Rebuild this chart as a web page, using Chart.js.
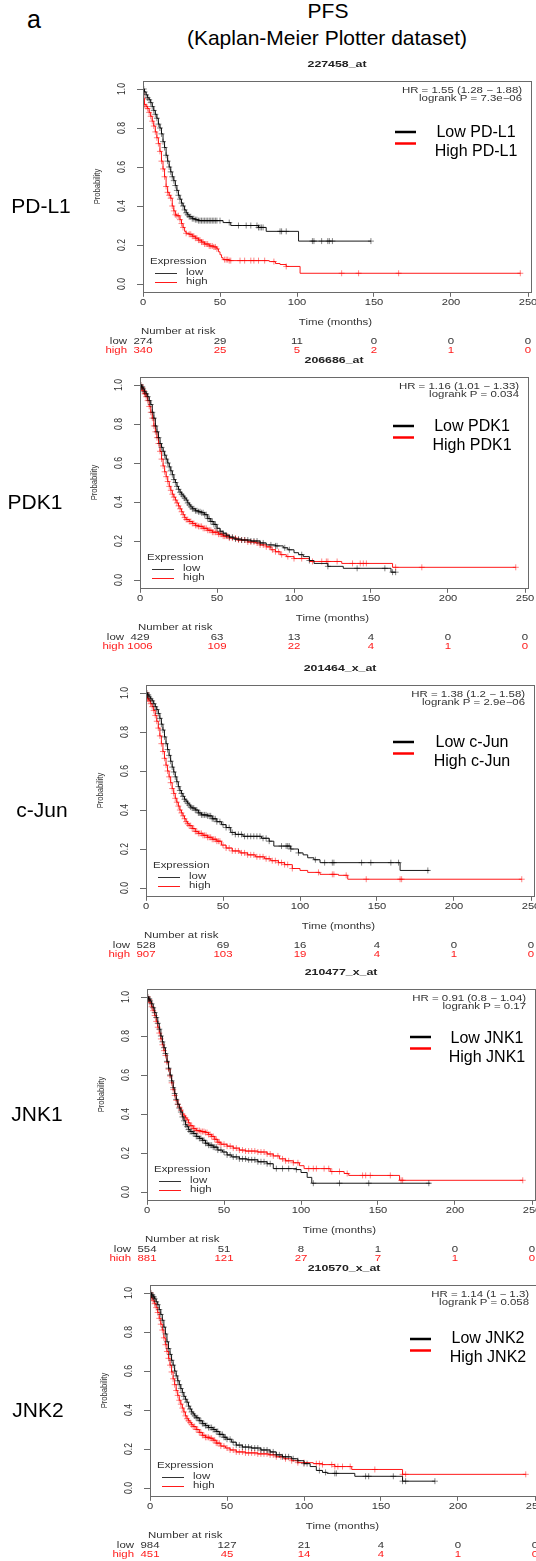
<!DOCTYPE html>
<html>
<head>
<meta charset="utf-8">
<script src="https://cdn.jsdelivr.net/npm/chart.js@4.4.1/dist/chart.umd.min.js"></script>
<style>
html, body { margin: 0; padding: 0; background: #fff; overflow: hidden; }
body { width: 536px; height: 1561px; position: relative; font-family: "Liberation Sans", Arial, sans-serif; }
.lbl { position: absolute; white-space: nowrap; color: #000; line-height: 1; transform: translate(-50%, -50%); }
canvas { position: absolute; left: 0; background: #fff; }
</style>
</head>
<body>
<div class="lbl" style="left:34px;top:19px;font-size:25px">a</div>
<div class="lbl" style="left:328px;top:10px;font-size:21px">PFS</div>
<div class="lbl" style="left:327px;top:37px;font-size:21px">(Kaplan-Meier Plotter dataset)</div>
<script>
// axes
const timeTicks = [0, 50, 100, 150, 200, 250];
const probTicks = [0, 0.2, 0.4, 0.6, 0.8, 1.0];

// panel texts
const genes = ['PD-L1', 'PDK1', 'c-Jun', 'JNK1', 'JNK2'];
const probes = ['227458_at', '206686_at', '201464_x_at', '210477_x_at', '210570_x_at'];
const hrLines = ['HR = 1.55 (1.28 \u2212 1.88)', 'HR = 1.16 (1.01 \u2212 1.33)', 'HR = 1.38 (1.2 \u2212 1.58)',
                 'HR = 0.91 (0.8 \u2212 1.04)', 'HR = 1.14 (1 \u2212 1.3)'];
const pLines = ['logrank P = 7.3e\u221206', 'logrank P = 0.034', 'logrank P = 2.9e\u221206',
                'logrank P = 0.17', 'logrank P = 0.058'];

// number at risk (at timeTicks)
const riskLow = [[274, 29, 11, 0, 0, 0], [429, 63, 13, 4, 0, 0], [528, 69, 16, 4, 0, 0],
                 [554, 51, 8, 1, 0, 0], [984, 127, 21, 4, 0, 0]];
const riskHigh = [[340, 25, 5, 2, 1, 0], [1006, 109, 22, 4, 1, 0], [907, 103, 19, 4, 1, 0],
                  [881, 121, 27, 7, 1, 0], [451, 45, 14, 4, 1, 0]];

// PD-L1 (227458_at)
const pdl1LowT = [0,1,2,3,4,5,6,7,8,9,10,11,12,13,14,15,16,17,18,19,20,21,22,23,24,25,26,27,28,29,30,32,34,36,52,57,75,80,101];
const pdl1LowS = [1,0.985,0.97,0.955,0.945,0.93,0.91,0.89,0.87,0.85,0.82,0.8,0.77,0.73,0.7,0.66,0.63,0.6,0.575,0.55,0.53,0.505,0.48,0.455,0.435,0.415,0.4,0.38,0.365,0.355,0.345,0.335,0.33,0.325,0.315,0.3,0.29,0.27,0.22];
const pdl1LowEnd = 148;
const pdl1LowC = [0.5,1,2,3,4,5,6,7,8,9,10,11,12,13,14,15,16,17,18,19,20,21,22,23,24,25,26,27,28,29,30,31,32,33,34,35,36,37,38,39,40,41,42,43,44,45,46,47,48,50,56,62,67,70,74,75,76,77,78,89,90,93,110,111,116,120,121,123,148];
const pdl1HighT = [0,0.5,1,2,3,4,5,6,7,8,9,10,11,12,13,14,15,16,17,18,19,20,21,22,24,25,26,27,28,30,32,34,36,38,40,43,46,48,49,50,51,52,56,82,86,89,93,102];
const pdl1HighS = [1,0.95,0.92,0.91,0.9,0.88,0.86,0.835,0.81,0.78,0.75,0.72,0.68,0.63,0.59,0.55,0.5,0.47,0.455,0.44,0.4,0.375,0.355,0.35,0.33,0.31,0.29,0.27,0.26,0.255,0.245,0.235,0.225,0.215,0.205,0.195,0.19,0.18,0.165,0.15,0.135,0.125,0.12,0.115,0.105,0.1,0.09,0.055];
const pdl1HighEnd = 245;
const pdl1HighC = [0.5,1,2,3,4,5,6,7,8,9,10,11,12,13,14,15,16,17,18,19,20,21,22,23,24,25,26,28,30,31,32,33,34,35,36,37,38,39,40,41,42,43,44,45,46,47,48,53,54,55,56,57,63,66,70,72,75,79,85,93,129,140,166,245];

// PDK1 (206686_at)
const pdk1LowT = [0,1,2,3,4,5,6,7,8,9,10,11,12,13,14,15,16,17,18,19,20,21,22,23,24,25,26,27,28,29,30,31,32,33,34,36,38,40,42,44,46,48,50,52,54,56,58,61,66,72,78,82,88,93,96,100,103,106,110,113,122,132,163];
const pdk1LowS = [1,0.99,0.98,0.965,0.955,0.94,0.92,0.9,0.86,0.83,0.79,0.76,0.73,0.7,0.68,0.66,0.64,0.62,0.6,0.58,0.56,0.54,0.515,0.5,0.48,0.465,0.45,0.44,0.43,0.42,0.41,0.395,0.385,0.375,0.365,0.355,0.35,0.345,0.335,0.315,0.3,0.285,0.265,0.25,0.24,0.23,0.22,0.21,0.205,0.2,0.19,0.18,0.175,0.165,0.155,0.14,0.13,0.12,0.1,0.085,0.07,0.06,0.04];
const pdk1LowEnd = 166;
const pdk1LowC = [0.5,1,1.5,2,3,4,5,6,7,8,9,10,11,12,13,14,15,16,17,18,19,20,21,22,23,24,25,26,27,28,29,30,31,32,33,34,35,36,37,38,39,40,41,42,43,44,45,46,47,48,49,50,52,54,56,58,60,62,64,66,68,70,72,74,76,78,80,85,88,89,94,97,105,110,122,141,159,164,166];
const pdk1HighT = [0,1,2,3,4,5,6,7,8,9,10,11,12,13,14,15,16,17,18,19,20,21,22,23,24,25,26,27,28,29,30,32,34,36,38,41,44,47,51,54,58,63,70,75,78,82,85,88,91,95,100,110,131,164];
const pdk1HighS = [1,0.985,0.97,0.955,0.94,0.92,0.89,0.86,0.83,0.79,0.76,0.73,0.7,0.66,0.62,0.585,0.555,0.53,0.505,0.48,0.46,0.44,0.425,0.41,0.395,0.38,0.365,0.35,0.335,0.32,0.31,0.3,0.29,0.28,0.275,0.265,0.255,0.245,0.235,0.225,0.215,0.205,0.195,0.19,0.18,0.17,0.155,0.145,0.13,0.12,0.11,0.095,0.085,0.065];
const pdk1HighEnd = 244;
const pdk1HighC = [0.5,1,1.5,2,2.5,3,3.5,4,5,6,7,8,9,10,11,12,13,14,15,16,17,18,19,20,21,22,23,24,25,26,27,28,29,30,31,32,33,34,35,36,37,38,39,40,41,42,43,44,45,46,47,48,49,50,51,52,53,54,55,56,57,58,60,62,64,66,68,70,72,74,76,78,80,82,84,86,88,90,92,96,100,105,112,118,121,122,128,138,143,145,147,166,183,244];

// c-Jun (201464_x_at)
const cjunLowT = [0,1,2,3,4,5,6,7,8,9,10,11,12,13,14,15,16,17,18,19,20,21,22,23,24,25,26,27,28,29,30,32,34,36,40,43,46,49,52,55,58,63,75,80,83,94,99,102,105,109,113,165];
const cjunLowS = [1,0.99,0.98,0.97,0.96,0.945,0.93,0.915,0.895,0.87,0.84,0.81,0.775,0.74,0.71,0.68,0.65,0.62,0.595,0.57,0.545,0.52,0.5,0.485,0.47,0.455,0.445,0.435,0.425,0.415,0.41,0.4,0.385,0.375,0.37,0.355,0.34,0.325,0.31,0.285,0.275,0.265,0.255,0.24,0.215,0.2,0.18,0.17,0.155,0.145,0.13,0.09];
const cjunLowEnd = 184;
const cjunLowC = [0.5,1,1.5,2,3,4,5,6,7,8,9,10,11,12,13,14,15,16,17,18,19,20,21,22,23,24,25,26,27,28,29,30,31,32,33,34,35,36,37,38,39,40,41,42,43,44,45,46,48,50,52,54,56,58,60,62,64,66,68,70,72,74,76,78,80,88,91,92,93,94,99,110,116,121,122,140,146,159,164,183];
const cjunHighT = [0,1,2,3,4,5,6,7,8,9,10,11,12,13,14,15,16,17,18,19,20,21,22,23,24,25,26,27,28,30,32,34,37,40,43,46,49,52,56,61,66,71,77,81,86,90,95,100,105,113,125,131];
const cjunHighS = [1,0.97,0.96,0.945,0.93,0.91,0.885,0.855,0.82,0.78,0.74,0.7,0.665,0.63,0.6,0.57,0.54,0.51,0.485,0.46,0.44,0.42,0.4,0.385,0.37,0.355,0.34,0.33,0.32,0.305,0.29,0.28,0.27,0.26,0.25,0.24,0.22,0.205,0.19,0.18,0.17,0.16,0.15,0.14,0.13,0.12,0.1,0.09,0.08,0.07,0.065,0.045];
const cjunHighEnd = 244;
const cjunHighC = [0.5,1,1.5,2,3,4,5,6,7,8,9,10,11,12,13,14,15,16,17,18,19,20,21,22,23,24,25,26,27,28,29,30,31,32,33,34,35,36,37,38,39,40,41,42,43,44,45,46,47,48,50,52,54,56,58,60,62,64,66,68,70,72,74,76,78,80,82,84,86,88,90,92,95,112,121,122,130,143,165,166,244];

// JNK1 (210477_x_at)
const jnk1LowT = [0,1,2,3,4,5,6,7,8,9,10,11,12,13,14,15,16,17,18,19,20,21,22,23,24,25,26,27,28,30,32,34,36,38,40,43,46,49,52,55,60,65,72,78,82,97,100,104,107];
const jnk1LowS = [1,0.99,0.98,0.965,0.945,0.92,0.895,0.865,0.835,0.8,0.77,0.74,0.71,0.67,0.635,0.6,0.57,0.535,0.505,0.475,0.45,0.43,0.41,0.385,0.365,0.345,0.335,0.32,0.31,0.3,0.285,0.275,0.265,0.25,0.24,0.23,0.215,0.205,0.19,0.18,0.17,0.165,0.155,0.145,0.12,0.115,0.1,0.075,0.045];
const jnk1LowEnd = 184;
const jnk1LowC = [0.5,1,1.5,2,3,4,5,6,7,8,9,10,11,12,13,14,15,16,17,18,19,20,21,22,23,24,25,26,27,28,29,30,31,32,33,34,35,36,37,38,39,40,41,42,43,44,45,46,48,50,52,54,56,58,60,62,64,66,68,70,72,74,76,78,80,84,88,92,97,108,125,144,183];
const jnk1HighT = [0,1,2,3,4,5,6,7,8,9,10,11,12,13,14,15,16,17,18,19,20,21,22,23,24,25,26,27,28,30,32,35,38,40,42,44,46,48,52,56,60,64,72,78,82,86,90,95,99,102,119,128,131,164];
const jnk1HighS = [1,0.985,0.97,0.95,0.93,0.905,0.875,0.845,0.815,0.785,0.755,0.725,0.7,0.665,0.63,0.595,0.56,0.525,0.495,0.47,0.45,0.435,0.42,0.4,0.39,0.38,0.37,0.355,0.34,0.325,0.315,0.31,0.305,0.295,0.285,0.27,0.255,0.245,0.235,0.225,0.215,0.21,0.205,0.195,0.185,0.17,0.16,0.15,0.135,0.12,0.105,0.095,0.085,0.06];
const jnk1HighEnd = 244;
const jnk1HighC = [0.5,1,1.5,2,3,4,5,6,7,8,9,10,11,12,13,14,15,16,17,18,19,20,21,22,23,24,25,26,27,28,29,30,31,32,33,34,35,36,37,38,39,40,41,42,43,44,45,46,47,48,50,52,54,56,58,60,62,64,66,68,70,72,74,76,78,80,82,85,88,90,92,95,98,105,108,110,115,118,120,125,130,140,142,145,158,165,166,244];

// JNK2 (210570_x_at)
const jnk2LowT = [0,1,2,3,4,5,6,7,8,9,10,11,12,13,14,15,16,17,18,19,20,21,22,23,24,25,26,27,28,29,30,32,34,36,38,41,43,45,48,50,53,56,60,66,72,78,82,86,92,96,100,104,108,112,115,133,164];
const jnk2LowS = [1,0.99,0.98,0.97,0.955,0.94,0.915,0.89,0.86,0.825,0.79,0.75,0.715,0.685,0.655,0.63,0.6,0.575,0.55,0.53,0.51,0.49,0.47,0.455,0.44,0.42,0.405,0.39,0.38,0.37,0.36,0.345,0.33,0.32,0.31,0.3,0.29,0.275,0.26,0.25,0.235,0.22,0.21,0.205,0.195,0.185,0.17,0.16,0.15,0.14,0.125,0.11,0.09,0.08,0.075,0.06,0.035];
const jnk2LowEnd = 185;
const jnk2LowC = [0.5,1,1.5,2,2.5,3,4,5,6,7,8,9,10,11,12,13,14,15,16,17,18,19,20,21,22,23,24,25,26,27,28,29,30,31,32,33,34,35,36,37,38,39,40,41,42,43,44,45,46,47,48,49,50,52,54,56,58,60,62,64,66,68,70,72,74,76,78,80,82,84,86,88,90,93,96,100,102,110,114,120,121,140,142,158,164,166,185];
const jnk2HighT = [0,1,2,3,4,5,6,7,8,9,10,11,12,13,14,15,16,17,18,19,20,21,22,23,24,25,26,27,28,30,32,34,36,39,41,43,46,49,52,56,62,70,77,82,87,92,96,106,112,120,131,164];
const jnk2HighS = [1,0.975,0.96,0.945,0.925,0.9,0.87,0.84,0.81,0.77,0.735,0.7,0.665,0.63,0.595,0.56,0.53,0.5,0.475,0.45,0.43,0.41,0.39,0.37,0.355,0.345,0.335,0.325,0.315,0.3,0.285,0.27,0.26,0.255,0.245,0.23,0.215,0.205,0.195,0.185,0.18,0.175,0.17,0.16,0.15,0.14,0.13,0.125,0.12,0.11,0.095,0.07];
const jnk2HighEnd = 244;
const jnk2HighC = [0.5,1,2,3,4,5,6,7,8,9,10,11,12,13,14,15,16,17,18,19,20,21,22,23,24,25,26,27,28,29,30,31,32,33,34,35,36,37,38,39,40,41,42,43,44,45,46,48,50,52,54,56,58,60,62,64,66,68,70,72,74,76,78,80,82,85,88,92,96,100,108,110,112,118,120,122,125,130,146,164,166,244];

const series = [
  {low: [pdl1LowT, pdl1LowS, pdl1LowEnd, pdl1LowC], high: [pdl1HighT, pdl1HighS, pdl1HighEnd, pdl1HighC]},
  {low: [pdk1LowT, pdk1LowS, pdk1LowEnd, pdk1LowC], high: [pdk1HighT, pdk1HighS, pdk1HighEnd, pdk1HighC]},
  {low: [cjunLowT, cjunLowS, cjunLowEnd, cjunLowC], high: [cjunHighT, cjunHighS, cjunHighEnd, cjunHighC]},
  {low: [jnk1LowT, jnk1LowS, jnk1LowEnd, jnk1LowC], high: [jnk1HighT, jnk1HighS, jnk1HighEnd, jnk1HighC]},
  {low: [jnk2LowT, jnk2LowS, jnk2LowEnd, jnk2LowC], high: [jnk2HighT, jnk2HighS, jnk2HighEnd, jnk2HighC]}
];

// page layout of each panel (page px): canvas top, y of P=1.0, x of t=0, legend offsets, gene label x
const panels = [
  {top: 55,   y1: 89,   x0: 143, lx: 252, ly: 43, tx: 333, ty: 44, gx: 41},
  {top: 355,  y1: 385,  x0: 140, lx: 253, ly: 41, tx: 332, ty: 42, gx: 35},
  {top: 664,  y1: 693,  x0: 146, lx: 247, ly: 49, tx: 326, ty: 50, gx: 42},
  {top: 964,  y1: 997,  x0: 147, lx: 263, ly: 40, tx: 340, ty: 42, gx: 37},
  {top: 1261, y1: 1293, x0: 150, lx: 260, ly: 46, tx: 338, ty: 46, gx: 38}
];
const W = 545;
const PX_MONTH = 77 / 50;
const PX_PROB = 195;
const X_MAX = 252;
const FF = '"Liberation Sans", Arial, Helvetica, sans-serif';
const SX = 1.3;  // the R output was stretched sideways
const RED = '#ff1a1a';

function stepPoints(ts, ss, end) {
  const pts = ts.map((t, i) => ({x: t, y: ss[i]}));
  pts.push({x: end, y: ss[ss.length - 1]});
  return pts;
}
function survAt(ts, ss, t) {
  let v = ss[0];
  for (let i = 0; i < ts.length; i++) if (ts[i] <= t) v = ss[i];
  return v;
}
function censPoints(ts, ss, cens) {
  return cens.map(t => ({x: t, y: survAt(ts, ss, t)}));
}

function txt(ctx, s, x, y, align, size, color, o) {
  o = o || {};
  ctx.save();
  ctx.translate(x, y);
  if (o.stretch !== false) ctx.scale(SX, 1);
  if (o.rot) ctx.rotate(-Math.PI / 2);
  ctx.font = (o.bold ? 'bold ' : '') + size + 'px ' + FF;
  ctx.fillStyle = color;
  ctx.textAlign = align;
  ctx.textBaseline = 'middle';
  ctx.fillText(s, 0, 0);
  ctx.restore();
}
function seg(ctx, x1, y, x2, color, w) {
  ctx.save();
  ctx.strokeStyle = color; ctx.lineWidth = w;
  ctx.beginPath(); ctx.moveTo(x1, y); ctx.lineTo(x2, y); ctx.stroke();
  ctx.restore();
}

function deco(i) {
  return {
    id: 'deco' + i,
    afterDraw(chart) {
      const ctx = chart.ctx, a = chart.chartArea;
      const sx = chart.scales.x, sy = chart.scales.y;
      const y1 = sy.getPixelForValue(1), y0 = sy.getPixelForValue(0);
      const L = a.left, p = panels[i];
      const grey = '#333';

      ctx.save();
      ctx.strokeStyle = '#6a6a6a'; ctx.lineWidth = 1;
      ctx.strokeRect(Math.round(a.left) + 0.5, Math.round(a.top) + 0.5,
                     Math.round(a.right - a.left), Math.round(a.bottom - a.top));
      ctx.restore();

      txt(ctx, probes[i], (a.left + a.right) / 2, y1 - 25, 'center', 9.5, '#222', {bold: true});
      txt(ctx, hrLines[i], a.right - 9, y1 + 2, 'right', 8.8, grey);
      txt(ctx, pLines[i], a.right - 9, y1 + 10, 'right', 8.8, grey);

      probTicks.forEach(v => txt(ctx, v.toFixed(1), L - 21, sy.getPixelForValue(v), 'center', 8.6, grey, {rot: true}));
      txt(ctx, 'Probability', L - 46, (y0 + y1) / 2, 'center', 7.6, grey, {rot: true});

      timeTicks.forEach(v => txt(ctx, String(v), sx.getPixelForValue(v), y1 + 214, 'center', 8.6, grey));
      txt(ctx, 'Time (months)', (sx.getPixelForValue(0) + sx.getPixelForValue(250)) / 2, y1 + 234, 'center', 8.8, grey);

      txt(ctx, 'Number at risk', L - 2, y1 + 243, 'left', 8.8, grey);
      txt(ctx, 'low', L - 16, y1 + 253, 'right', 8.8, grey);
      txt(ctx, 'high', L - 16, y1 + 262, 'right', 8.8, RED);
      timeTicks.forEach((v, k) => {
        txt(ctx, String(riskLow[i][k]), sx.getPixelForValue(v), y1 + 253, 'center', 8.8, grey);
        txt(ctx, String(riskHigh[i][k]), sx.getPixelForValue(v), y1 + 262, 'center', 8.8, RED);
      });

      // Expression legend inside the box
      txt(ctx, 'Expression', L + 7, y1 + 173, 'left', 8.8, grey);
      seg(ctx, L + 12, y1 + 184.5, L + 34, '#333', 1);
      seg(ctx, L + 12, y1 + 193.5, L + 34, RED, 1);
      txt(ctx, 'low', L + 43, y1 + 184, 'left', 8.8, grey);
      txt(ctx, 'high', L + 43, y1 + 193, 'left', 8.8, grey);

      // added legend
      seg(ctx, L + p.lx, y1 + p.ly, L + p.lx + 21, '#000', 2.5);
      seg(ctx, L + p.lx, y1 + p.ly + 11.5, L + p.lx + 21, '#f00', 2.5);
      txt(ctx, 'Low ' + genes[i], L + p.tx, y1 + p.ty, 'center', 16, '#000', {stretch: false});
      txt(ctx, 'High ' + genes[i], L + p.tx, y1 + p.ty + 18.5, 'center', 16, '#000', {stretch: false});

      // gene name on the left
      txt(ctx, genes[i], p.gx, y1 + 118, 'center', 21, '#000', {stretch: false});
    }
  };
}

function buildPanel(i) {
  const p = panels[i], s = series[i];
  const H = p.y1 + 268 - p.top;
  const y1 = p.y1 - p.top;
  const cv = document.createElement('canvas');
  cv.width = W; cv.height = H;
  cv.style.width = W + 'px'; cv.style.height = H + 'px';
  cv.style.top = p.top + 'px';
  document.body.appendChild(cv);

  const [lT, lS, lE, lC] = s.low;
  const [hT, hS, hE, hC] = s.high;
  const crossCommon = {showLine: false, pointStyle: 'cross', pointRadius: 3, pointBorderWidth: 0.9};
  const lineCommon = {stepped: true, borderWidth: 1, pointRadius: 0, fill: false};

  new Chart(cv, {
    type: 'line',
    data: {
      datasets: [
        Object.assign({data: censPoints(lT, lS, lC), pointBorderColor: 'rgba(0,0,0,0.55)', order: 1}, crossCommon),
        Object.assign({data: stepPoints(lT, lS, lE), borderColor: '#1a1a1a', order: 2}, lineCommon),
        Object.assign({data: censPoints(hT, hS, hC), pointBorderColor: 'rgba(255,0,0,0.55)', order: 3}, crossCommon),
        Object.assign({data: stepPoints(hT, hS, hE), borderColor: RED, order: 4}, lineCommon)
      ]
    },
    options: {
      animation: false,
      responsive: false,
      events: [],
      layout: {
        autoPadding: false,
        padding: {
          left: p.x0,
          right: W - (p.x0 + X_MAX * PX_MONTH),
          top: y1 - 0.04 * PX_PROB,
          bottom: H - (y1 + 1.04 * PX_PROB)
        }
      },
      plugins: {legend: {display: false}, tooltip: {enabled: false}},
      scales: {
        x: {
          type: 'linear', min: 0, max: X_MAX,
          afterFit: sc => { sc.height = 0; },
          afterBuildTicks: sc => { sc.ticks = timeTicks.map(v => ({value: v})); },
          ticks: {display: false},
          grid: {drawOnChartArea: false, drawTicks: true, tickLength: 5, color: '#6a6a6a'},
          border: {display: false}
        },
        y: {
          type: 'linear', min: -0.04, max: 1.04,
          afterFit: sc => { sc.width = 0; },
          afterBuildTicks: sc => { sc.ticks = probTicks.map(v => ({value: v})); },
          ticks: {display: false},
          grid: {drawOnChartArea: false, drawTicks: true, tickLength: 6, color: '#6a6a6a'},
          border: {display: false}
        }
      }
    },
    plugins: [deco(i)]
  });
}

panels.forEach((p, i) => buildPanel(i));
</script>
</body>
</html>
